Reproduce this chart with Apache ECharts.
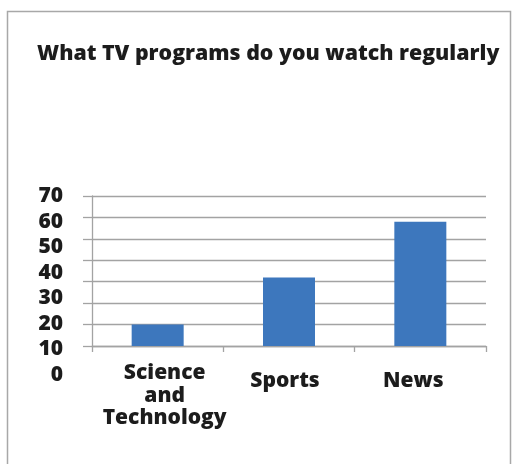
<!DOCTYPE html>
<html>
<head>
<meta charset="utf-8">
<script src="https://cdn.jsdelivr.net/npm/echarts@6/dist/echarts.min.js"></script>
<style>
  html, body { margin: 0; padding: 0; background: #fff; }
  #chart { width: 513px; height: 464px; }
</style>
</head>
<body>
<div id="chart"></div>
<script>
// Survey: TV programs watched regularly
const titleText = 'What TV programs do you watch regularly';
const categories = ['Science\nand\nTechnology', 'Sports', 'News'];
const values = [10, 32, 58];
const tickLabels = [0, 10, 20, 30, 40, 50, 60, 70];

const FONT = '"Open Sans", "DejaVu Sans", sans-serif';
const INK = '#1c1c1c';
const GRID_GRAY = '#a3a3a3';
const WEIGHT = 800;

// per-category label nudges (rich styles)
const labelStyles = ['sci', 'spo', 'nws'];

const chart = echarts.init(document.getElementById('chart'), null, { renderer: 'canvas' });

const labelFont = { fontFamily: FONT, fontWeight: WEIGHT, fontSize: 21, lineHeight: 22.5, color: INK };

chart.setOption({
  backgroundColor: '#fff',
  animation: false,
  title: {
    text: titleText,
    left: 32,
    top: 38,
    textStyle: { fontFamily: FONT, fontWeight: WEIGHT, fontSize: 21.3, color: INK }
  },
  graphic: [{
    type: 'rect',
    shape: { x: 7.5, y: 11.5, width: 503, height: 480 },
    style: { fill: 'none', stroke: '#a8a8a8', lineWidth: 1.5 },
    silent: true
  }],
  grid: [
    { left: 92, top: 196, width: 394, height: 150 },
    { left: 71, top: 196, width: 10, height: 179 }
  ],
  xAxis: [
    {
      type: 'category',
      gridIndex: 0,
      data: categories,
      axisLine: { lineStyle: { color: GRID_GRAY, width: 1.3 } },
      axisTick: { show: true, length: 6, alignWithLabel: false, lineStyle: { color: GRID_GRAY, width: 1.3 } },
      axisLabel: Object.assign({
        margin: 16,
        interval: 0,
        formatter: function (v, i) { return '{' + labelStyles[i] + '|' + v + '}'; },
        rich: {
          sci: Object.assign({ padding: [0, 0, 0, 14] }, labelFont),
          spo: Object.assign({ padding: [15, 8, 0, 0] }, labelFont),
          nws: Object.assign({ padding: [15, 14, 0, 0] }, labelFont)
        }
      }, labelFont),
      splitLine: { show: false }
    },
    {
      type: 'value',
      gridIndex: 1,
      show: false
    }
  ],
  yAxis: [
    {
      type: 'value',
      gridIndex: 0,
      min: 0,
      max: 70,
      interval: 10,
      axisLine: { show: true, lineStyle: { color: GRID_GRAY, width: 1.3 } },
      axisTick: { show: true, length: 9, lineStyle: { color: GRID_GRAY, width: 1.3 } },
      axisLabel: { show: false },
      splitLine: { show: true, lineStyle: { color: GRID_GRAY, width: 1.3 } }
    },
    {
      // tick label column
      type: 'value',
      gridIndex: 1,
      min: tickLabels[0],
      max: tickLabels[tickLabels.length - 1],
      interval: tickLabels[1] - tickLabels[0],
      axisLine: { show: false },
      axisTick: { show: false },
      splitLine: { show: false },
      axisLabel: {
        margin: 8,
        color: INK,
        fontFamily: FONT,
        fontWeight: WEIGHT,
        fontSize: 21
      }
    }
  ],
  series: [{
    type: 'bar',
    xAxisIndex: 0,
    yAxisIndex: 0,
    data: values,
    barWidth: 52,
    itemStyle: { color: '#3d77bd' }
  }]
});
</script>
</body>
</html>
